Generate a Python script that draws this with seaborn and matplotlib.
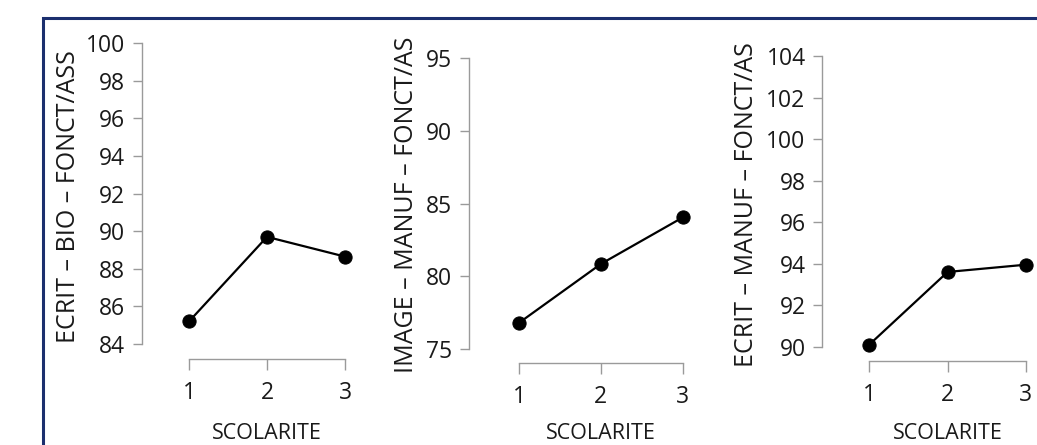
import matplotlib
matplotlib.use("Agg")
import matplotlib.pyplot as plt
import matplotlib.font_manager as fm
from matplotlib.patches import Rectangle
import seaborn as sns
import pandas as pd

# ---- data ----
scolarite = [1, 2, 3]
ecrit_bio = [85.2, 89.7, 88.65]
image_manuf = [76.8, 80.85, 84.05]
ecrit_manuf = [90.1, 93.6, 93.95]
ylabels = ["ECRIT – BIO – FONCT/ASS", "IMAGE – MANUF – FONCT/AS", "ECRIT – MANUF – FONCT/AS"]
xlabel = "SCOLARITE"
yticks_list = [list(range(84, 101, 2)), list(range(75, 96, 5)), list(range(90, 105, 2))]

sns.set_theme(style="white")
font = "DejaVu Sans"
for cand in ["Open Sans", "Noto Sans"]:
    try:
        fm.findfont(cand, fallback_to_default=False)
        font = cand
        break
    except Exception:
        pass
plt.rcParams["font.family"] = [font, "DejaVu Sans"]

W, H = 1037, 445
fig = plt.figure(figsize=(W / 100, H / 100), dpi=100)
fig.patch.set_facecolor("white")

TXT = "#1a1a1a"
SP = "#9a9a9a"

# layout in pixels: spine_x, spine_y, x1px, x3px, ytop_px, ybot_px, right_px, top_px
layouts = [
    (142, 359, 189, 345, 43.3, 344.0, 356, 35),
    (469, 363, 519, 682.7, 58.3, 349.0, 692, 35),
    (822.3, 360.7, 869.3, 1026, 56.0, 346.7, 1037, 35),
]
ylab_pos = [(75, 343.3), (413.3, 373.3), (753.3, 366.7)]
series = [ecrit_bio, image_manuf, ecrit_manuf]

for i in range(3):
    sx, sy, x1, x3, yt_px, yb_px, rpx, tpx = layouts[i]
    yt = yticks_list[i]
    ytop_v, ybot_v = yt[-1], yt[0]
    ppx = (x3 - x1) / 2.0
    ppy = (yb_px - yt_px) / (ytop_v - ybot_v)
    ax = fig.add_axes([sx / W, 1 - sy / H, (rpx - sx) / W, (sy - tpx) / H])
    df = pd.DataFrame({"x": scolarite, "y": series[i]})
    sns.lineplot(data=df, x="x", y="y", ax=ax, color="black", linewidth=1.6,
                 marker="o", markersize=9.5, markeredgecolor="black", clip_on=False)
    ax.set_xlim(1 - (x1 - sx) / ppx, 3 + (rpx - x3) / ppx)
    ax.set_ylim(ybot_v - (sy - yb_px) / ppy, ytop_v + (yt_px - tpx) / ppy)
    ax.set_xticks(scolarite)
    ax.set_yticks(yt)
    ax.set_xticklabels([str(v) for v in scolarite])
    ax.set_yticklabels([str(v) for v in yt])
    ax.set_xlabel("")
    ax.set_ylabel("")
    for s in ["top", "right"]:
        ax.spines[s].set_visible(False)
    ax.spines["left"].set_bounds(ybot_v, ytop_v)
    ax.spines["bottom"].set_bounds(1, 3)
    for s in ["left", "bottom"]:
        ax.spines[s].set_color(SP)
        ax.spines[s].set_linewidth(1.0)
    ax.tick_params(axis="y", direction="out", length=6.5, width=1.0, color=SP,
                   pad=5.5, labelsize=16.5, labelcolor=TXT, left=True)
    ax.tick_params(axis="x", direction="out", length=8, width=1.0, color=SP,
                   pad=8, labelsize=16.5, labelcolor=TXT, bottom=True)
    ax.set_facecolor("none")
    ax.grid(False)
    # y label
    lx, ly = ylab_pos[i]
    fig.text(lx / W, 1 - ly / H, ylabels[i], rotation=90, rotation_mode="anchor",
             ha="left", va="baseline", fontsize=18, color=TXT)
    # x label
    cx = (x1 + x3) / 2.0
    fig.text(cx / W, 1 - 439 / H, xlabel, ha="center", va="baseline",
             fontsize=15.5, color=TXT)

# slide border (top and left edges visible)
fig.add_artist(Rectangle((43 / W, -0.05), (W + 20) / W, 1.05 - 18 / H,
                         transform=fig.transFigure, fill=False,
                         edgecolor="#1b2f6e", linewidth=2.2, clip_on=False))

fig.savefig("out.png", dpi=100, facecolor="white")
